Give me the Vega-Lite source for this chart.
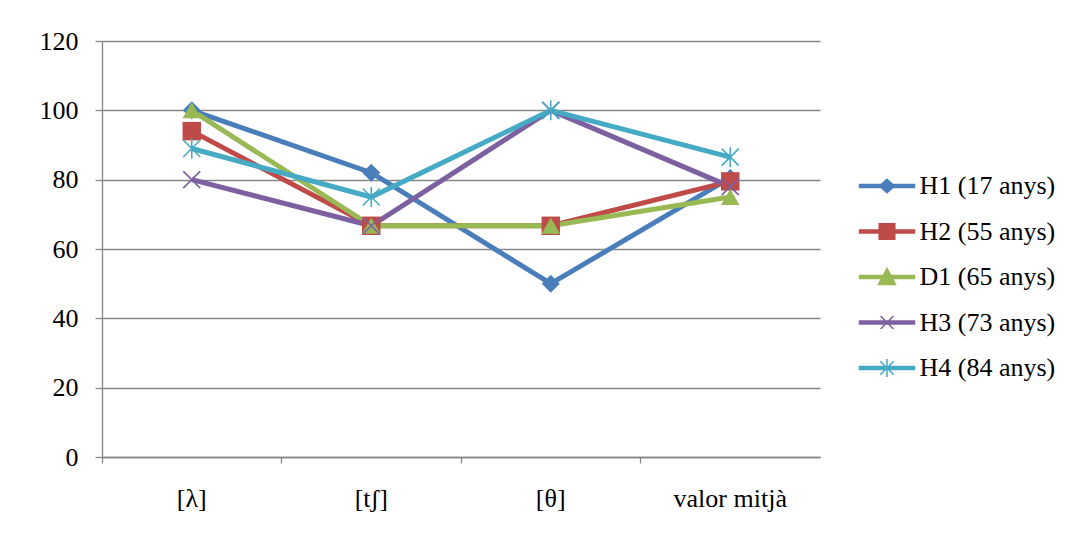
{
  "$schema": "https://vega.github.io/schema/vega-lite/v6.json",
  "width": 718,
  "height": 416,
  "autosize": {"type": "none"},
  "padding": {"left": 102, "top": 41, "right": 252, "bottom": 79},
  "background": "white",
  "config": {
    "view": {"stroke": null},
    "font": "Liberation Serif",
    "axis": {
      "labelFont": "Liberation Serif",
      "labelFontSize": 26,
      "labelColor": "#000000",
      "domainColor": "#868686",
      "tickColor": "#868686",
      "gridColor": "#868686",
      "domainWidth": 1.3,
      "tickWidth": 1.3,
      "gridWidth": 1.3,
      "title": null
    },
    "legend": {
      "labelFont": "Liberation Serif",
      "labelFontSize": 26,
      "labelColor": "#000000"
    }
  },
  "data": {
    "values": [
      {"serie": "H1 (17 anys)", "cat": "[λ]", "valor": 100},
      {"serie": "H1 (17 anys)", "cat": "[tʃ]", "valor": 82},
      {"serie": "H1 (17 anys)", "cat": "[θ]", "valor": 50},
      {"serie": "H1 (17 anys)", "cat": "valor mitjà", "valor": 80.5},
      {"serie": "H2 (55 anys)", "cat": "[λ]", "valor": 94},
      {"serie": "H2 (55 anys)", "cat": "[tʃ]", "valor": 66.7},
      {"serie": "H2 (55 anys)", "cat": "[θ]", "valor": 66.7},
      {"serie": "H2 (55 anys)", "cat": "valor mitjà", "valor": 79.5},
      {"serie": "D1 (65 anys)", "cat": "[λ]", "valor": 100},
      {"serie": "D1 (65 anys)", "cat": "[tʃ]", "valor": 66.7},
      {"serie": "D1 (65 anys)", "cat": "[θ]", "valor": 66.7},
      {"serie": "D1 (65 anys)", "cat": "valor mitjà", "valor": 75},
      {"serie": "H3 (73 anys)", "cat": "[λ]", "valor": 80},
      {"serie": "H3 (73 anys)", "cat": "[tʃ]", "valor": 66.7},
      {"serie": "H3 (73 anys)", "cat": "[θ]", "valor": 100},
      {"serie": "H3 (73 anys)", "cat": "valor mitjà", "valor": 78},
      {"serie": "H4 (84 anys)", "cat": "[λ]", "valor": 89},
      {"serie": "H4 (84 anys)", "cat": "[tʃ]", "valor": 75},
      {"serie": "H4 (84 anys)", "cat": "[θ]", "valor": 100},
      {"serie": "H4 (84 anys)", "cat": "valor mitjà", "valor": 86.5}
    ]
  },
  "encoding": {
    "x": {
      "field": "cat",
      "type": "nominal",
      "sort": ["[λ]", "[tʃ]", "[θ]", "valor mitjà"],
      "scale": {"type": "band", "paddingInner": 0, "paddingOuter": 0},
      "axis": {
        "bandPosition": 0,
        "labelAngle": 0,
        "tickSize": 6,
        "labelPadding": 43,
        "labelBaseline": "alphabetic",
        "labelFontSize": 26,
        "labelFont": "Liberation Serif",
        "grid": false
      }
    },
    "y": {
      "field": "valor",
      "type": "quantitative",
      "scale": {"domain": [0, 120], "nice": false, "zero": true},
      "axis": {"values": [0, 20, 40, 60, 80, 100, 120], "tickSize": 7, "labelPadding": 17, "labelFontSize": 26, "labelFont": "Liberation Serif", "grid": true}
    },
    "color": {
      "field": "serie",
      "type": "nominal",
      "sort": ["H1 (17 anys)", "H2 (55 anys)", "D1 (65 anys)", "H3 (73 anys)", "H4 (84 anys)"],
      "scale": {
        "domain": ["H1 (17 anys)", "H2 (55 anys)", "D1 (65 anys)", "H3 (73 anys)", "H4 (84 anys)"],
        "range": ["#4A7EBB", "#BE4B48", "#98B954", "#7D60A0", "#46AAC5"]
      },
      "legend": {
        "title": null,
        "orient": "none",
        "legendX": 769,
        "legendY": 129,
        "padding": 0,
        "symbolSize": 900,
        "rowPadding": 16.5,
        "labelOffset": 16.5,
        "labelFontSize": 26,
        "labelFont": "Liberation Serif",
        "encode": {
          "symbols": {
            "update": {
              "fill": {"signal": "scale('color', datum.value)"},
              "stroke": {"signal": "scale('color', datum.value)"},
              "strokeWidth": {"value": 1.5},
              "opacity": {"value": 1},
              "fillOpacity": {"value": 1},
              "strokeOpacity": {"value": 1},
              "size": {"value": 900},
              "shape": {"signal": "datum.value == 'H1 (17 anys)' ? 'M-1.83,-0.1H1.83V0.1H-1.83Z M0,-0.45L0.5,0L0,0.45L-0.5,0Z' : datum.value == 'H2 (55 anys)' ? 'M-1.83,-0.1H1.83V0.1H-1.83Z M-0.52,-0.52H0.52V0.52H-0.52Z' : datum.value == 'D1 (65 anys)' ? 'M-1.83,-0.1H1.83V0.1H-1.83Z M0,-0.58L0.57,0.5H-0.57Z' : datum.value == 'H3 (73 anys)' ? 'M-1.83,-0.1H1.83V0.1H-1.83Z M-0.43,-0.43L0.43,0.43M-0.43,0.43L0.43,-0.43' : 'M-1.83,-0.1H1.83V0.1H-1.83Z M-0.45,-0.45L0.45,0.45M-0.45,0.45L0.45,-0.45M0,-0.6L0,0.6'"}
            }
          }
        }
      }
    }
  },
  "layer": [
    {
      "mark": {"type": "line", "strokeWidth": 5}
    },
    {
      "transform": [{"filter": "datum.serie == 'H1 (17 anys)'"}],
      "mark": {"type": "point", "filled": true, "opacity": 1, "shape": "diamond", "size": 324}
    },
    {
      "transform": [{"filter": "datum.serie == 'H2 (55 anys)'"}],
      "mark": {"type": "point", "filled": true, "opacity": 1, "shape": "square", "size": 340}
    },
    {
      "transform": [{"filter": "datum.serie == 'D1 (65 anys)'"}],
      "mark": {"type": "point", "filled": true, "opacity": 1, "shape": "triangle-up", "size": 340}
    },
    {
      "transform": [{"filter": "datum.serie == 'H3 (73 anys)'"}],
      "mark": {"type": "point", "filled": false, "opacity": 1, "strokeWidth": 1.6, "shape": "M-1,-1L1,1M-1,1L1,-1", "size": 289}
    },
    {
      "transform": [{"filter": "datum.serie == 'H4 (84 anys)'"}],
      "mark": {"type": "point", "filled": false, "opacity": 1, "strokeWidth": 1.6, "shape": "M-0.85,-0.85L0.85,0.85M-0.85,0.85L0.85,-0.85M0,-1L0,1", "size": 400}
    }
  ]
}
